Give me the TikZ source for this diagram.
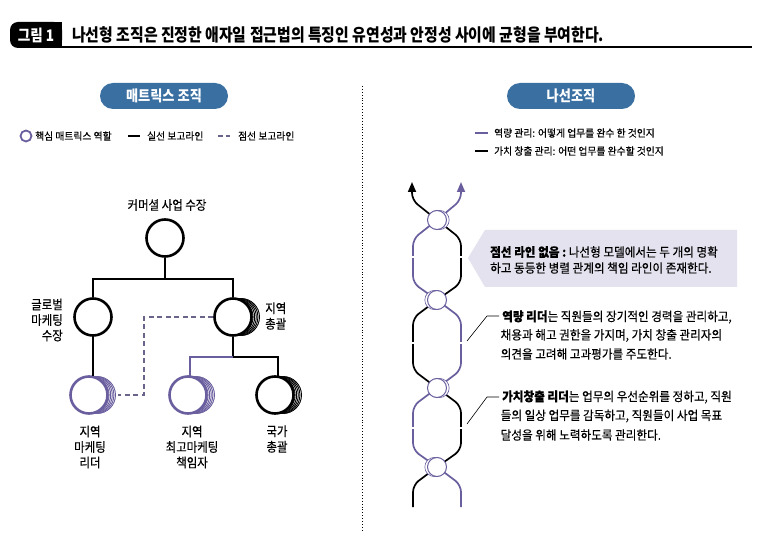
\documentclass[tikz,border=0pt]{standalone}
\usepackage{fontspec}
\setmainfont{Noto Sans CJK KR}
\newfontfamily\krtitle[FakeStretch=0.85]{Noto Sans CJK KR}
\newfontfamily\krbody[FakeStretch=0.92,FakeBold=0.3]{Noto Sans CJK KR}
\newfontfamily\krlbl[FakeStretch=0.88,FakeBold=0.3]{Noto Sans CJK KR}
\newfontfamily\krpill[FakeStretch=0.88]{Noto Sans CJK KR}
\newfontfamily\krleg[FakeStretch=0.95,FakeBold=0.3]{Noto Sans CJK KR}
\usetikzlibrary{arrows.meta,calc}
\definecolor{mpurple}{RGB}{106,94,158}
\definecolor{dpurple}{RGB}{106,100,138}
\definecolor{pillblue}{RGB}{58,111,162}
\definecolor{callout}{RGB}{228,226,238}
\newcommand\ringstack[3]{%
  \foreach \o in {8,6.4,4.8,3.2,1.6} {\draw[#3, line width=0.9pt, fill=white] (#1+\o,#2) circle (18.5);}}
\newcommand\helixrings[3]{%
  \foreach \o in {1,2,3} {\draw[mpurple, line width=0.6pt, fill=white] (#1+#3*\o,#2) circle (9.5);}}
\begin{document}
\begin{tikzpicture}[x=1pt,y=-1pt,
  pill/.style={rectangle, rounded corners=13pt, fill=pillblue, text=white, minimum width=128pt, minimum height=26pt, inner sep=0pt, font=\krpill\fontsize{15}{17}\selectfont\bfseries},
  leg/.style={anchor=west, inner sep=0pt, font=\krleg\fontsize{10.3}{12}\selectfont},
  lbl/.style={inner sep=0pt, font=\krlbl\fontsize{13}{15.5}\selectfont},
  txt/.style={anchor=west, inner sep=0pt, font=\krbody\fontsize{12.6}{14}\selectfont},
  bigc/.style={circle, draw=black, fill=white, line width=2.6pt, minimum size=37pt, inner sep=0pt},
  hc/.style={circle, draw=mpurple, fill=white, line width=1pt, minimum size=19pt, inner sep=0pt},
  conn/.style={line width=2.2pt},
  pconn/.style={line width=2.2pt, draw=mpurple},
  dashconn/.style={line width=1.6pt, draw=dpurple, dash pattern=on 5pt off 3.5pt},
  strand/.style={line width=1.7pt, rounded corners=7pt},
  leader/.style={line width=0.6pt}
]
\useasboundingbox (0,0) rectangle (768,537);
\fill[white] (0,0) rectangle (768,537);

% ---------- title ----------
\fill[black, rounded corners=8pt] (10,22) rectangle (62,48);
\fill[black] (50,22) rectangle (62,48);
\node[text=white, inner sep=0pt, font=\krtitle\fontsize{16}{18}\selectfont\bfseries] (tab) at (36,35) {그림 1};
\node[anchor=west, inner sep=0pt, font=\krtitle\fontsize{17.5}{20}\selectfont\bfseries] (ttl) at (72,35) {나선형 조직은 진정한 애자일 접근법의 특징인 유연성과 안정성 사이에 균형을 부여한다.};
\draw[line width=1.4pt] (62,47) -- (752,47);

% ---------- divider ----------
\draw[dotted, line width=0.9pt] (362,86) -- (362,530);

% ---------- pills ----------
\node[pill] (pm) at (164,96) {매트릭스 조직};
\node[pill] (ps) at (571,96) {나선조직};

% ---------- left legend ----------
\node[circle, draw=mpurple, line width=1.8pt, minimum size=11pt, inner sep=0pt] (lg1) at (26,136) {};
\node[leg] (lt1) at (35,136) {핵심 매트릭스 역할};
\draw[line width=1.8pt] (128,136) -- (140,136);
\node[leg] (lt2) at (147,136) {실선 보고라인};
\draw[dashconn, dash pattern=on 4.5pt off 3pt] (218,136) -- (233,136);
\node[leg] (lt3) at (238,136) {점선 보고라인};

% ---------- org chart ----------
\node[lbl] (tl) at (167,205) {커머셜 사업 수장};
\node[bigc] (top) at (165,238) {};
\node[bigc] (gm) at (93,317) {};
\ringstack{233}{317}{black}
\node[bigc] (rh) at (233,317) {};
\ringstack{89}{395}{mpurple}
\node[bigc, draw=mpurple] (ll) at (89,395) {};
\ringstack{188}{395}{mpurple}
\node[bigc, draw=mpurple] (lm) at (188,395) {};
\ringstack{275}{395}{black}
\node[bigc] (lr) at (275,395) {};

\coordinate (j1) at (165,279);
\coordinate (j2) at (233,357);
\draw[conn] (top.south) -- (j1);
\draw[conn] (gm.north) -- (gm.north |- j1) -- (rh.north |- j1) -- (rh.north);
\draw[conn] ($(gm.south)+(0,-1)$) -- ($(gm.south |- ll.north)+(0,1)$);
\draw[conn] (rh.south) -- (j2);
\draw[pconn] (j2) -- ($(j2 -| lm.north)+(2,0)$) -- ($(lm.north)+(2,1)$);
\draw[conn] (j2) -- ($(j2 -| lr.north)+(3,0)$) -- ($(lr.north)+(3,1)$);
\coordinate (d1) at (144,395);
\draw[dashconn] (rh.west) -| (d1) -- ($(ll.east)+(9,0)$);

\node[lbl, anchor=east, align=right] (lgm) at (63,320) {글로벌\\마케팅\\수장};
\node[lbl, anchor=west, align=left] (lrh) at (265,316) {지역\\총괄};
\node[lbl, align=center] (lll) at (90,447) {지역\\마케팅\\리더};
\node[lbl, align=center] (llm) at (192,447) {지역\\최고마케팅\\책임자};
\node[lbl, align=center] (llr) at (277,439) {국가\\총괄};

% ---------- right legend ----------
\draw[mpurple, line width=2pt] (475,133) -- (488,133);
\node[leg] (rl1) at (494,133) {역량 관리: 어떻게 업무를 완수 한 것인지};
\draw[line width=2pt] (475,151) -- (488,151);
\node[leg] (rl2) at (494,151) {가치 창출 관리: 어떤 업무를 완수할 것인지};

% ---------- helix ----------
\draw[strand, mpurple, {Triangle[width=8pt,length=10pt]}-] (461,182) -- (461,200) -- (437,220) -- (413,239) -- (413,283) -- (437,300) -- (461,318) -- (461,370) -- (437,388) -- (413,406) -- (413,450) -- (437,467) -- (461,485) -- (461,507);
\draw[strand, black, {Triangle[width=8pt,length=10pt]}-] (412,182) -- (412,200) -- (437,220) -- (461,239) -- (461,283) -- (437,300) -- (413,318) -- (413,370) -- (437,388) -- (461,406) -- (461,450) -- (437,467) -- (413,485) -- (413,507);
\foreach \gy in {257,343,428} {
  \fill[white] (409,\gy-1.3) rectangle (417,\gy+1.3);
  \fill[white] (457,\gy-1.3) rectangle (465,\gy+1.3);
}
\helixrings{437}{220}{0.9}
\node[hc] (h1) at (437,220) {};
\helixrings{437}{300}{-0.9}
\node[hc] (h2) at (437,300) {};
\helixrings{437}{388}{0.9}
\node[hc] (h3) at (437,388) {};
\helixrings{437}{467}{-0.9}
\node[hc] (h4) at (437,467) {};

% ---------- callout ----------
\fill[callout] (468,258) -- (485,230) -- (737,230) -- (737,287) -- (485,287) -- cycle;
\node[txt] (c1) at (490,252) {\bfseries 점선 라인 없음 :\mdseries\ 나선형 모델에서는 두 개의 명확};
\node[txt] (c2) at (490,268) {하고 동등한 병렬 관계의 책임 라인이 존재한다.};

% ---------- text blocks ----------
\coordinate (e1) at (467,341);
\coordinate (k1) at (487,316);
\coordinate (m1) at (499,316);
\draw[leader] (e1) -- (k1) -- (m1);
\node[txt] (a1) at (502,317) {\bfseries 역량 리더\mdseries 는 직원들의 장기적인 경력을 관리하고,};
\node[txt] (a2) at (500.5,335.5) {채용과 해고 권한을 가지며, 가치 창출 관리자의};
\node[txt] (a3) at (500.5,354) {의견을 고려해 고과평가를 주도한다.};

\coordinate (e2) at (467,424);
\coordinate (k2) at (487,397);
\coordinate (m2) at (499,397);
\draw[leader] (e2) -- (k2) -- (m2);
\node[txt] (b1) at (502,397) {\bfseries 가치창출 리더\mdseries 는 업무의 우선순위를 정하고, 직원};
\node[txt] (b2) at (500.5,416) {들의 일상 업무를 감독하고, 직원들이 사업 목표};
\node[txt] (b3) at (500.5,435) {달성을 위해 노력하도록 관리한다.};
\end{tikzpicture}
\end{document}
